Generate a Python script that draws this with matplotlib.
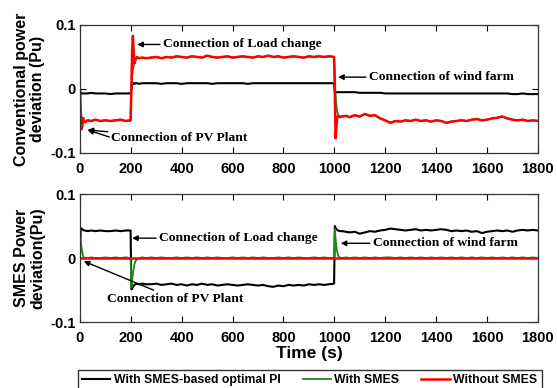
import matplotlib
matplotlib.use("Agg")
import matplotlib.pyplot as plt

# ---------------- data ----------------
time_s = ([0, 3, 6, 9, 12, 15, 20, 30, 45, 60, 80, 100, 120, 140, 160, 180, 199]
          + [202, 205, 208, 211, 214, 218, 224, 232, 245, 260]
          + list(range(280, 1000, 20))
          + [999, 1002, 1005, 1008, 1011, 1015, 1020, 1030, 1045, 1060]
          + list(range(1080, 1801, 20)))

# Conventional power deviation
conv_without = ([0.0, -0.045, -0.063, -0.058, -0.045, -0.050, -0.052, -0.049, -0.050, -0.048, -0.050, -0.049, -0.050, -0.049, -0.048, -0.050, -0.049]
                + [0.000, 0.060, 0.083, 0.060, 0.040, 0.045, 0.050, 0.048, 0.049, 0.048]
                + [0.049, 0.050, 0.048, 0.050, 0.049, 0.051, 0.050, 0.049, 0.051, 0.050, 0.049, 0.052,
                   0.050, 0.049, 0.050, 0.051, 0.049, 0.050, 0.051, 0.050, 0.049, 0.051, 0.050, 0.052,
                   0.050, 0.051, 0.049, 0.050, 0.051, 0.050, 0.049, 0.051, 0.050, 0.051, 0.050, 0.051]
                + [0.050, -0.010, -0.077, -0.060, -0.045, -0.042, -0.044, -0.043, -0.042, -0.044]
                + [-0.041, -0.043, -0.039, -0.042, -0.041, -0.046, -0.049, -0.053, -0.050, -0.051,
                   -0.049, -0.050, -0.048, -0.050, -0.049, -0.051, -0.049, -0.050, -0.053, -0.051,
                   -0.050, -0.049, -0.050, -0.048, -0.047, -0.049, -0.048, -0.046, -0.045, -0.043,
                   -0.046, -0.048, -0.049, -0.048, -0.050, -0.049, -0.050])

conv_with = ([0.0, -0.030, -0.045, -0.050, -0.050, -0.050, -0.052, -0.049, -0.050, -0.048, -0.050, -0.049, -0.050, -0.049, -0.048, -0.050, -0.049]
             + [0.000, 0.020, 0.030, 0.035, 0.040, 0.045, 0.049, 0.048, 0.049, 0.048]
             + [0.049, 0.050, 0.048, 0.050, 0.049, 0.051, 0.050, 0.049, 0.051, 0.050, 0.049, 0.052,
                0.050, 0.049, 0.050, 0.051, 0.049, 0.050, 0.051, 0.050, 0.049, 0.051, 0.050, 0.052,
                0.050, 0.051, 0.049, 0.050, 0.051, 0.050, 0.049, 0.051, 0.050, 0.051, 0.050, 0.051]
             + [0.050, 0.020, -0.010, -0.025, -0.035, -0.040, -0.043, -0.043, -0.042, -0.044]
             + [-0.041, -0.043, -0.039, -0.042, -0.041, -0.046, -0.049, -0.053, -0.050, -0.051,
                -0.049, -0.050, -0.048, -0.050, -0.049, -0.051, -0.049, -0.050, -0.053, -0.051,
                -0.050, -0.049, -0.050, -0.048, -0.047, -0.049, -0.048, -0.046, -0.045, -0.043,
                -0.046, -0.048, -0.049, -0.048, -0.050, -0.049, -0.050])

conv_optimal = ([-0.002, -0.007, -0.007, -0.007, -0.007, -0.007, -0.007, -0.007, -0.006, -0.007, -0.007, -0.007, -0.008, -0.007, -0.007, -0.007, -0.007]
                + [0.000, 0.008, 0.008, 0.009, 0.008, 0.009, 0.009, 0.008, 0.009, 0.009]
                + [0.009, 0.009, 0.008, 0.009, 0.009, 0.009, 0.008, 0.009, 0.009, 0.009, 0.009, 0.009,
                   0.008, 0.009, 0.009, 0.009, 0.009, 0.009, 0.009, 0.008, 0.009, 0.009, 0.009, 0.009,
                   0.009, 0.009, 0.009, 0.009, 0.009, 0.009, 0.009, 0.009, 0.009, 0.009, 0.009, 0.009]
                + [0.009, -0.004, -0.005, -0.005, -0.005, -0.005, -0.005, -0.005, -0.005, -0.005]
                + [-0.005, -0.006, -0.006, -0.006, -0.006, -0.006, -0.007, -0.007, -0.007, -0.007,
                   -0.007, -0.007, -0.007, -0.007, -0.007, -0.007, -0.007, -0.007, -0.007, -0.007,
                   -0.007, -0.007, -0.007, -0.007, -0.007, -0.007, -0.007, -0.007, -0.007, -0.007,
                   -0.007, -0.008, -0.008, -0.007, -0.008, -0.008, -0.008])

# SMES power deviation
smes_without = [0.0] * len(time_s)

smes_with = ([0.0, 0.025, 0.018, 0.010, 0.004, 0.001, 0.000, 0.000, 0.001, 0.000, 0.000, 0.001, 0.000, 0.001, 0.000, 0.001, 0.000]
             + [-0.046, -0.035, -0.025, -0.017, -0.010, -0.005, -0.002, 0.000, 0.001, 0.000]
             + [0.001, 0.000, 0.001, 0.000, 0.000, 0.001, 0.000, 0.001, 0.000, 0.001, 0.000, 0.001,
                0.000, 0.001, 0.000, 0.000, 0.001, 0.000, 0.001, 0.000, 0.001, 0.000, 0.001, 0.000,
                0.000, 0.001, 0.000, 0.001, 0.000, 0.001, 0.000, 0.000, 0.001, 0.000, 0.001, 0.000]
             + [0.000, 0.045, 0.030, 0.018, 0.010, 0.004, 0.001, 0.000, 0.001, 0.000]
             + [0.001, 0.000, 0.001, 0.000, 0.001, 0.000, 0.001, 0.001, 0.000, 0.001,
                0.000, 0.001, 0.000, 0.001, 0.000, 0.001, 0.000, 0.001, 0.000, 0.001,
                0.000, 0.001, 0.000, 0.001, 0.000, 0.001, 0.000, 0.001, 0.000, 0.001,
                0.000, 0.001, 0.000, 0.001, 0.000, 0.001, 0.000])

smes_optimal = ([0.0, 0.047, 0.046, 0.045, 0.044, 0.043, 0.043, 0.042, 0.043, 0.042, 0.043, 0.042, 0.042, 0.043, 0.042, 0.043, 0.043]
                + [-0.049, -0.048, -0.045, -0.043, -0.042, -0.041, -0.040, -0.041, -0.040, -0.041]
                + [-0.041, -0.040, -0.042, -0.041, -0.040, -0.042, -0.041, -0.043, -0.041, -0.042, -0.040, -0.042,
                   -0.041, -0.043, -0.042, -0.041, -0.042, -0.043, -0.042, -0.041, -0.042, -0.043, -0.042, -0.044,
                   -0.045, -0.043, -0.044, -0.042, -0.043, -0.042, -0.043, -0.041, -0.042, -0.041, -0.042, -0.041]
                + [-0.040, 0.050, 0.047, 0.045, 0.044, 0.043, 0.042, 0.042, 0.041, 0.040]
                + [0.041, 0.038, 0.040, 0.042, 0.041, 0.043, 0.044, 0.046, 0.045, 0.044,
                   0.043, 0.044, 0.045, 0.043, 0.044, 0.043, 0.044, 0.045, 0.044, 0.042,
                   0.043, 0.042, 0.043, 0.041, 0.042, 0.039, 0.041, 0.042, 0.043, 0.042,
                   0.043, 0.041, 0.043, 0.044, 0.043, 0.044, 0.043])

series_labels = ["With SMES-based optimal PI", "With SMES", "Without SMES"]
series_colors = ["black", "#1a8a1a", "red"]
x_ticks = [0, 200, 400, 600, 800, 1000, 1200, 1400, 1600, 1800]
y_ticks = [-0.1, 0, 0.1]
y_ticklabels = ["-0.1", "0", "0.1"]

# ---------------- figure ----------------
sans = "Liberation Sans"
serif = "Liberation Serif"
fig = plt.figure(figsize=(5.57, 3.88), dpi=100)
ax1 = fig.add_axes([0.1436, 0.6057, 0.822, 0.330])
ax2 = fig.add_axes([0.1436, 0.1700, 0.822, 0.330])

lws = [1.5, 1.3, 1.8]
top_data = [conv_optimal, conv_with, conv_without]
bot_data = [smes_optimal, smes_with, smes_without]
handles = []
for ax, data in ((ax1, top_data), (ax2, bot_data)):
    for vals, c, lw, lab in zip(data, series_colors, lws, series_labels):
        h, = ax.plot(time_s, vals, color=c, lw=lw, label=lab)
        if ax is ax1:
            handles.append(h)

for ax in (ax1, ax2):
    ax.set_xlim(0, 1800)
    ax.set_ylim(-0.1, 0.1)
    ax.set_xticks(x_ticks)
    ax.set_yticks(y_ticks)
    ax.set_yticklabels(y_ticklabels)
    ax.tick_params(direction="in", top=True, right=True, length=4, width=0.8,
                   labelsize=10.5)
    ax.tick_params(axis="x", pad=6.5)
    ax.tick_params(axis="y", pad=3)
    for lbl in ax.get_xticklabels() + ax.get_yticklabels():
        lbl.set_fontfamily(sans)
        lbl.set_fontweight("bold")
    for sp in ax.spines.values():
        sp.set_linewidth(0.9)
        sp.set_color("#333333")

ax1.set_ylabel("Conventional power\ndeviation (Pu)", fontfamily=sans,
               fontweight="bold", fontsize=11.5, labelpad=4, linespacing=1.1)
ax2.set_ylabel("SMES Power\ndeviation(Pu)", fontfamily=sans,
               fontweight="bold", fontsize=11.5, labelpad=4, linespacing=1.1)
ax2.set_xlabel("Time (s)", fontfamily=sans, fontweight="bold", fontsize=12.5, labelpad=0.5)

ann_kw = dict(fontfamily=serif, fontweight="bold", fontsize=9.7, va="center", ha="left",
              arrowprops=dict(arrowstyle="-|>", color="black", lw=1.0,
                              mutation_scale=8, shrinkA=0, shrinkB=0))
# top panel annotations (text position, arrow tip) in data coords
ax1.annotate("Connection of Load change", xy=(225, 0.0695), xytext=(325, 0.0695), **ann_kw)
ax1.annotate("Connection of wind farm", xy=(1015, 0.0185), xytext=(1135, 0.0185), **ann_kw)
ax1.annotate("Connection of PV Plant", xy=(30, -0.064), xytext=(120, -0.077), **ann_kw)
ax1.annotate("", xy=(30, -0.064), xytext=(115, -0.075),
             arrowprops=dict(arrowstyle="-|>", color="black", lw=1.0, mutation_scale=8,
                             shrinkA=0, shrinkB=0))
# bottom panel annotations
ax2.annotate("Connection of Load change", xy=(205, 0.031), xytext=(310, 0.031), **ann_kw)
ax2.annotate("Connection of wind farm", xy=(1025, 0.023), xytext=(1150, 0.023), **ann_kw)
ax2.annotate("Connection of PV Plant", xy=(15, -0.005), xytext=(105, -0.064), **ann_kw)

leg = fig.legend(handles=handles, loc="upper center", bbox_to_anchor=(0.556, 1 - 370 / 388),
                 ncol=3, frameon=True, fancybox=False, edgecolor="black",
                 prop={"family": sans, "weight": "bold", "size": 8.8},
                 handlelength=2.3, handletextpad=0.3, columnspacing=1.8,
                 borderpad=0.35, borderaxespad=0)
leg.get_frame().set_linewidth(1.0)

fig.savefig("out.png", dpi=100)
